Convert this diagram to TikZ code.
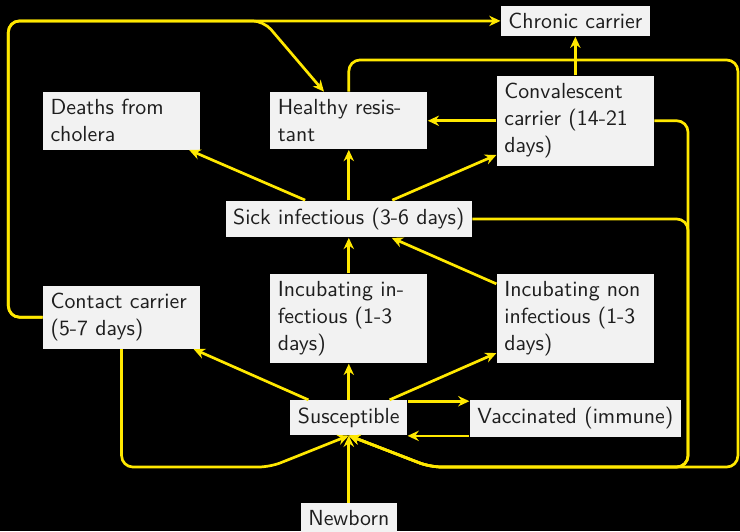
\documentclass[tikz,border=0pt]{standalone}
\usepackage{xcolor}
\usepackage{tikz}
\usetikzlibrary{arrows.meta}
\definecolor{choleraYellow}{RGB}{255, 232, 0}
\definecolor{choleraBox}{RGB}{242, 242, 242}
\definecolor{choleraText}{RGB}{30, 30, 30}

\begin{document}
\begin{tikzpicture}[
  stage/.style={fill=choleraBox, text=choleraText, font=\sffamily\fontsize{9.7pt}{12pt}\selectfont, inner sep=3.33pt},
  wideStage/.style={stage, text width=2.22cm, align=left},
  flow/.style={draw=choleraYellow, very thick, rounded corners=5pt, -{Stealth[length=5pt,width=4.6pt]}}
]
% Background
\useasboundingbox (0,0) rectangle (11.5625,8.297);
\fill[black] (0,0) rectangle (11.5625,8.297);

% Compartments
\node[stage] (chronic) at (8.99,7.97) {Chronic carrier};
\node[wideStage] (deaths) at (1.90,6.41) {Deaths from cholera};
\node[wideStage] (healthy) at (5.45,6.41) {Healthy resistant};
\node[wideStage] (conv) at (8.99,6.41) {Convalescent carrier (14-21 days)};
\node[stage] (sick) at (5.45,4.875) {Sick infectious (3-6 days)};
\node[wideStage] (contact) at (1.90,3.34) {Contact carrier (5-7 days)};
\node[wideStage] (incInf) at (5.45,3.32) {Incubating infectious (1-3 days)};
\node[wideStage] (incNon) at (8.99,3.32) {Incubating non infectious (1-3 days)};
\node[stage] (susc) at (5.45,1.77) {Susceptible};
\node[stage] (vacc) at (8.99,1.76) {Vaccinated (immune)};
\node[stage] (newborn) at (5.45,0.20) {Newborn};

% Corner points of the long connectors
\coordinate (cornerTL) at (0.13,7.97);
\coordinate (bendH) at (4.12,7.97);
\coordinate (cornerTR) at (11.53,7.36);
\coordinate (cornerBR) at (11.53,1.0);
\coordinate (cornerBM) at (10.75,1.0);
\coordinate (bendR) at (6.72,1.0);
\coordinate (bendL) at (4.22,1.0);

% Flows out of susceptible
\draw[flow] (newborn) -- (susc);
\draw[flow] (susc) -- (contact);
\draw[flow] (susc) -- (incInf);
\draw[flow] (susc) -- (incNon);
\draw[flow] ([yshift=-0.6pt]susc.north east) -- ([yshift=-0.6pt]susc.north east -| vacc.west);
\draw[flow] ([yshift=0.6pt]vacc.south west) -- ([yshift=0.6pt]vacc.south west -| susc.east);

% Incubation and sickness
\draw[flow] (incInf) -- (sick);
\draw[flow] (incNon) -- (sick);
\draw[flow] (sick) -- (deaths);
\draw[flow] (sick) -- (healthy);
\draw[flow] (sick) -- (conv);
\draw[flow] (conv) -- (healthy);
\draw[flow] (conv) -- (chronic);

% Contact carrier loops
\draw[flow] (contact.west) -| (cornerTL) -- (chronic.west);
\draw[flow] (contact.west) -| (cornerTL) -- (bendH) -- (healthy);
\draw[flow] (contact.south) |- (bendL) -- (susc.south);

% Return to susceptible
\draw[flow] (healthy.north) |- (cornerTR) -- (cornerBR) -- (bendR) -- (susc.south);
\draw[flow] (conv.east) -| (cornerBM) -- (bendR) -- (susc.south);
\draw[flow] (sick.east) -| (cornerBM) -- (bendR) -- (susc.south);
\end{tikzpicture}
\end{document}
